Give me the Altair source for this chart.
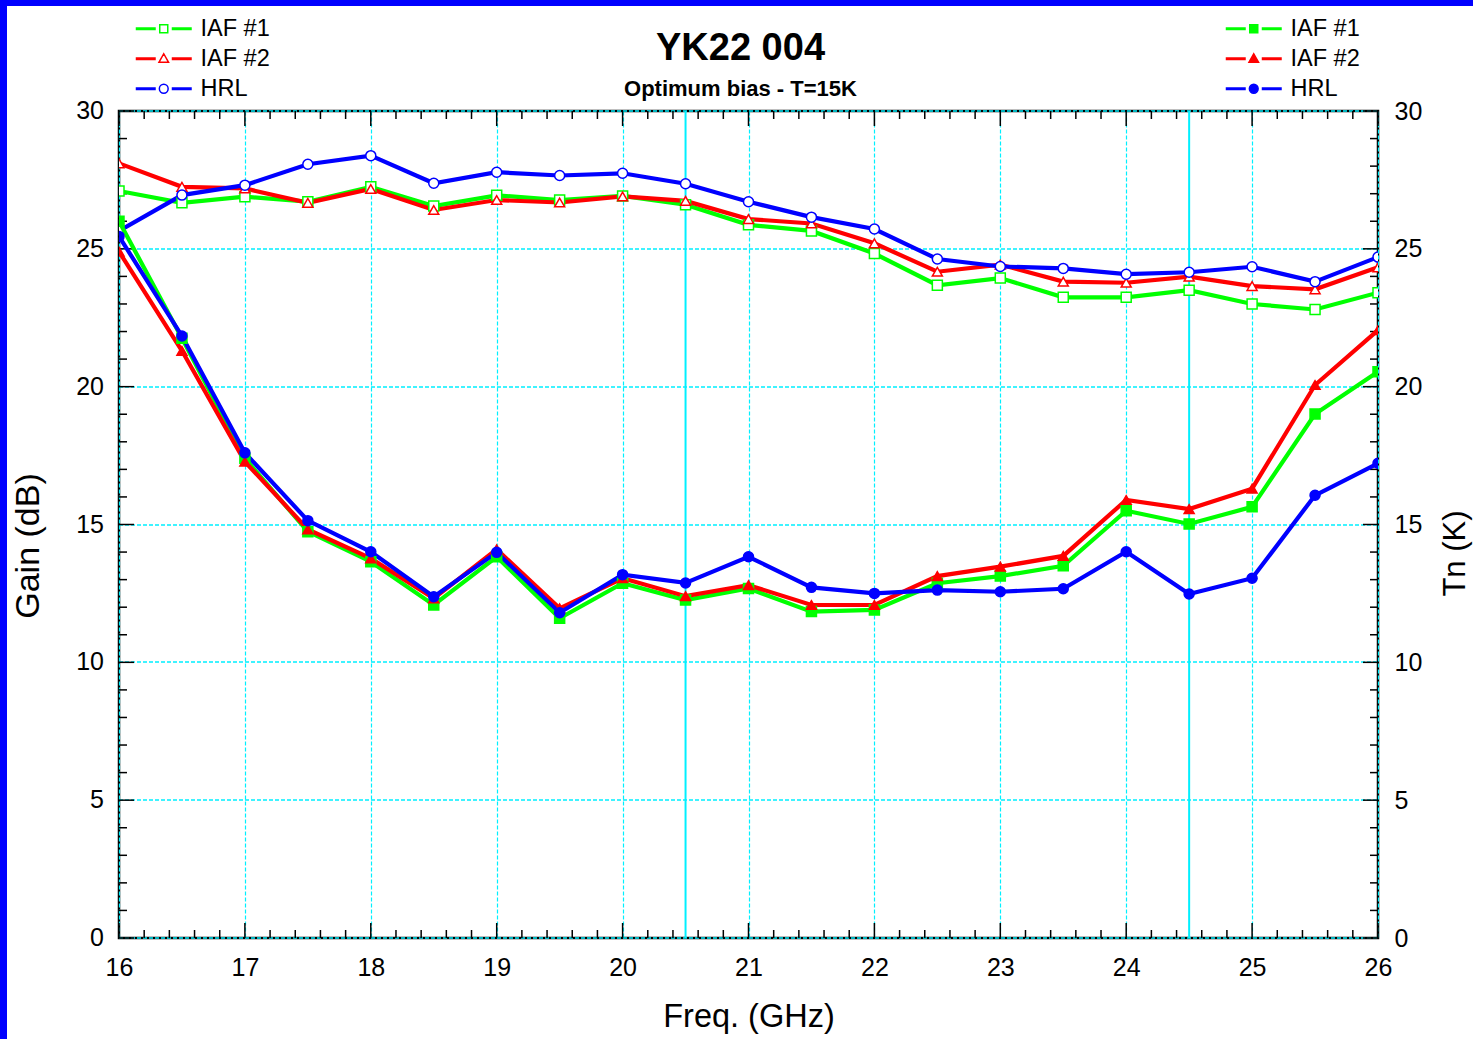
import altair as alt
import pandas as pd

# ---------------- data ----------------
FREQ = [16.0, 16.5, 17.0, 17.5, 18.0, 18.5, 19.0, 19.5, 20.0, 20.5, 21.0,
        21.5, 22.0, 22.5, 23.0, 23.5, 24.0, 24.5, 25.0, 25.5, 26.0]
SERIES = ["IAF #1", "IAF #2", "HRL"]
COLORS = ["#00FF00", "#FF0000", "#0000FF"]
SHAPES = ["square", "triangle-up", "circle"]

GAIN_IAF1 = [27.1, 26.67, 26.89, 26.71, 27.25, 26.55, 26.94, 26.77, 26.92, 26.6, 25.87,
             25.65, 24.83, 23.68, 23.94, 23.24, 23.24, 23.5, 23.0, 22.8, 23.41]
GAIN_IAF2 = [28.1, 27.25, 27.19, 26.67, 27.17, 26.41, 26.77, 26.68, 26.9, 26.74, 26.08,
             25.92, 25.2, 24.17, 24.43, 23.81, 23.77, 23.99, 23.65, 23.53, 24.33]
GAIN_HRL = [25.65, 26.95, 27.31, 28.07, 28.38, 27.38, 27.78, 27.66, 27.74, 27.36, 26.71,
            26.15, 25.72, 24.63, 24.36, 24.29, 24.08, 24.15, 24.35, 23.81, 24.7]

TN_IAF1 = [26.0, 21.76, 17.4, 14.74, 13.65, 12.08, 13.83, 11.6, 12.87, 12.26, 12.68,
           11.84, 11.9, 12.87, 13.13, 13.5, 15.5, 15.02, 15.64, 19.01, 20.54]
TN_IAF2 = [24.9, 21.3, 17.28, 14.82, 13.77, 12.32, 14.1, 11.96, 13.05, 12.4, 12.8,
           12.08, 12.08, 13.13, 13.47, 13.86, 15.89, 15.56, 16.3, 20.06, 22.05]
TN_HRL = [25.45, 21.84, 17.6, 15.14, 14.01, 12.38, 13.99, 11.8, 13.18, 12.88, 13.83,
          12.72, 12.5, 12.62, 12.56, 12.67, 14.01, 12.48, 13.05, 16.06, 17.22]

X_LABELS = [16, 17, 18, 19, 20, 21, 22, 23, 24, 25, 26]
Y_LABELS = [0, 5, 10, 15, 20, 25, 30]
MARKER_LINES = [20.5, 24.5]

# ---------------- layout / style ----------------
W, H = 1259, 827
FONT = "Liberation Sans"
CYAN = "#00F0FF"

gain_vals = {"IAF #1": GAIN_IAF1, "IAF #2": GAIN_IAF2, "HRL": GAIN_HRL}
tn_vals = {"IAF #1": TN_IAF1, "IAF #2": TN_IAF2, "HRL": TN_HRL}

gain_df = pd.DataFrame([{"freq": f, "series": s, "v": v}
                        for s in SERIES for f, v in zip(FREQ, gain_vals[s])])
tn_df = pd.DataFrame([{"freq": f, "series": s, "v": v}
                      for s in SERIES for f, v in zip(FREQ, tn_vals[s])])

x_minor = [i + k / 5 for i in X_LABELS[:-1] for k in range(1, 5)]
y_minor = [i for i in range(0, 31) if i not in Y_LABELS]

x_axis = alt.Axis(values=X_LABELS, grid=True, gridColor=CYAN, gridDash=[4, 2], gridWidth=1.2,
                  ticks=False, tickSize=0, domain=False, labelFontSize=25, labelPadding=17,
                  labelColor="black", labelFont=FONT, labelFlush=False, format="d",
                  title="Freq. (GHz)", titleFontSize=32.5, titleFontWeight="normal",
                  titleFont=FONT, titleColor="black", titlePadding=20)
X = alt.X("freq:Q", scale=alt.Scale(domain=[16, 26], nice=False, zero=False), axis=x_axis)
XV = alt.X("v:Q", scale=alt.Scale(domain=[16, 26], nice=False, zero=False), axis=x_axis)

gain_axis = alt.Axis(orient="left", values=Y_LABELS, grid=True, gridColor=CYAN, gridDash=[4, 2],
                     gridWidth=1.3, translate=0, ticks=False, tickSize=0, domain=False,
                     labelFontSize=25, labelPadding=15, labelColor="black", labelFont=FONT,
                     format="d", title="Gain (dB)", titleFontSize=34, titleFontWeight="normal",
                     titleFont=FONT, titleColor="black", titlePadding=30, titleY=435)
tn_axis = alt.Axis(orient="right", values=Y_LABELS, grid=False, ticks=False, tickSize=0,
                   domain=False, labelFontSize=25, labelPadding=16, labelColor="black",
                   labelFont=FONT, format="d", title="Tn (K)", titleFontSize=31,
                   titleFontWeight="normal", titleFont=FONT, titleColor="black",
                   titlePadding=19, titleAngle=270, titleBaseline="top", titleY=442)
yscale = alt.Scale(domain=[0, 30], nice=False, zero=True)

# legend symbols: line - marker - line (custom symbol paths)
seg = "M-7,-0.2H-2M-7,0.2H-2M2,-0.2H7M2,0.2H7"
LEGEND_PATHS = [seg + "M-1,-1H1V1H-1Z",
                seg + "M0,-1.25L1.2,0.9H-1.2Z",
                seg + "M-1.1,0A1.1,1.1 0 1,0 1.1,0A1.1,1.1 0 1,0 -1.1,0Z"]

color_scale = alt.Scale(domain=SERIES, range=COLORS)
legend_shape_scale = alt.Scale(domain=SERIES, range=LEGEND_PATHS)


def make_legend(lx):
    return alt.Legend(orient="none", legendX=lx, legendY=-94, title=None,
                      labelFontSize=23.5, labelFont=FONT, labelColor="black",
                      symbolSize=64, symbolStrokeWidth=1.5, labelOffset=25,
                      rowPadding=5, padding=0, labelLimit=300, symbolOpacity=1)


def group(df, axis, filled, lx):
    leg = make_legend(lx)
    Y = alt.Y("v:Q", scale=yscale, axis=axis)
    lines, points = [], []
    for s, shp in zip(SERIES, SHAPES):
        base = alt.Chart(df).transform_filter(alt.datum.series == s)
        lines.append(base.mark_line(strokeWidth=4.2, clip=True).encode(
            x=X, y=Y, stroke=alt.Stroke("series:N", scale=color_scale, legend=leg)))
        enc = dict(x=X, y=Y, shape=alt.value(shp),
                   stroke=alt.Stroke("series:N", scale=color_scale, legend=leg))
        if filled:
            enc["fill"] = alt.Fill("series:N", scale=color_scale, legend=leg)
        else:
            enc["fill"] = alt.value("white")
        points.append(base.mark_point(filled=True, size=100, strokeWidth=1.5, opacity=1,
                                      clip=True).encode(**enc))
    # legend-only layer (no marks drawn)
    lenc = dict(x=X, y=Y,
                stroke=alt.Stroke("series:N", scale=color_scale, legend=leg),
                shape=alt.Shape("series:N", scale=legend_shape_scale, legend=leg))
    if filled:
        lenc["fill"] = alt.Fill("series:N", scale=color_scale, legend=leg)
    legend_layer = alt.Chart(df).transform_filter("false").mark_point(
        filled=filled, strokeWidth=1.5, opacity=1).encode(**lenc)
    return alt.layer(*lines, *points, legend_layer)


gain_group = group(gain_df, gain_axis, False, 33)
tn_group = group(tn_df, tn_axis, True, 1123)


# ---------------- frame decorations ----------------
def tick_layer(vals, vertical, at_start, length):
    d = alt.Chart(pd.DataFrame({"v": vals}))
    m = d.mark_rule(color="black", strokeWidth=1.5)
    if vertical:  # ticks along x axis
        y0 = 0 if at_start else H
        y1 = length if at_start else H - length
        return m.encode(x=XV, y=alt.value(y0), y2=alt.value(y1))
    x0 = 0 if at_start else W
    x1 = length if at_start else W - length
    return m.encode(y=alt.Y("v:Q", scale=yscale, axis=None), x=alt.value(x0), x2=alt.value(x1))


ticks = []
for start in (True, False):
    ticks.append(tick_layer(X_LABELS, True, start, 15))
    ticks.append(tick_layer(x_minor, True, start, 8))
    ticks.append(tick_layer(Y_LABELS, False, start, 15))
    ticks.append(tick_layer(y_minor, False, start, 8))

markers = alt.Chart(pd.DataFrame({"v": MARKER_LINES})).mark_rule(
    color=CYAN, strokeWidth=2).encode(x=XV, y=alt.value(0), y2=alt.value(H))

blue_left = alt.Chart(alt.Data(values=[{}])).mark_rect(color="#0000FF").encode(
    x=alt.value(-119), x2=alt.value(-112), y=alt.value(-111), y2=alt.value(928))
blue_top = alt.Chart(alt.Data(values=[{}])).mark_rect(color="#0000FF").encode(
    x=alt.value(-119), x2=alt.value(1354), y=alt.value(-111), y2=alt.value(-105))

base = alt.layer(markers, *ticks, blue_left, blue_top)

chart = alt.layer(base, gain_group, tn_group).resolve_scale(
    y="independent", stroke="independent", shape="independent", fill="independent"
).properties(
    width=W, height=H,
    autosize=alt.AutoSizeParams(type="none"),
    padding={"left": 119, "top": 111, "right": 95, "bottom": 101},
    background="white",
    title=alt.TitleParams(text="YK22 004", subtitle="Optimum bias - T=15K",
                          font=FONT, fontSize=38, fontWeight="bold", color="black",
                          subtitleFont=FONT, subtitleFontSize=22, subtitleFontWeight="bold",
                          subtitleColor="black", subtitlePadding=11,
                          anchor="middle", frame="group", offset=-100, dx=-8),
).configure_view(stroke="black", strokeWidth=2.5
).configure_axis(gridColor=CYAN, gridDash=[4, 2])

chart.save("out.html", embed_options={"renderer": "svg", "actions": False})
